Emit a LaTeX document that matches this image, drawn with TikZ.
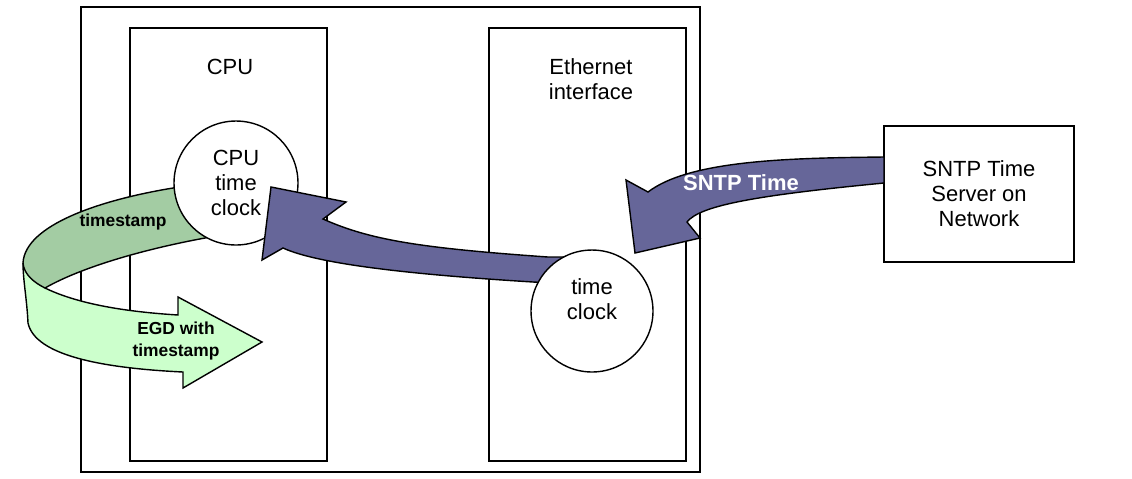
\documentclass[tikz,border=0pt]{standalone}
\usepackage{fontspec}
\setmainfont{Liberation Sans}
\definecolor{purp}{RGB}{102,102,153}
\definecolor{dgreen}{RGB}{163,204,163}
\definecolor{lgreen}{RGB}{204,255,204}
\begin{document}
\begin{tikzpicture}[x=0.02cm,y=-0.02cm,line join=miter,
  box/.style={draw,line width=0.8pt,rectangle,inner sep=0pt},
  clock/.style={draw,line width=0.8pt,circle,fill=white,inner sep=0pt,minimum size=2.48cm,
    align=center,font=\fontsize{12.5}{14.2}\selectfont},
  lbl/.style={align=center,font=\fontsize{12.5}{14.2}\selectfont,inner sep=0pt},
  blbl/.style={align=center,font=\fontsize{9.9}{12.5}\selectfont\bfseries,inner sep=0pt},
  band/.style={draw,line width=0.8pt}]
\useasboundingbox (0,0) rectangle (1132,478);
% boxes
\node[box,minimum width=12.38cm,minimum height=9.3cm] (outer) at (390.5,239.5) {};
\node[box,minimum width=3.94cm,minimum height=8.66cm] (cpu) at (228.5,244.5) {};
\node[box,minimum width=3.94cm,minimum height=8.66cm] (eth) at (587.5,244.5) {};
\node[box,minimum width=3.8cm,minimum height=2.72cm,lbl] (srv) at (979,194) {SNTP Time\\Server on\\Network};
\node[lbl] (cpulbl) at (230,67) {CPU};
\node[lbl] (ethlbl) at (591,79) {Ethernet\\interface};
% green arrow
\fill[lgreen] (23,263) .. controls (24,275) and (35,283) .. (45,288)
  .. controls (80,305) and (130,312) .. (178,315) -- (178,297) -- (262,342) -- (183,388) -- (183,372)
  .. controls (100,368) and (35,355) .. (28,323) .. controls (27,300) and (23,280) .. (23,263) -- cycle;
\draw[line width=0.8pt] (45,288) .. controls (80,305) and (130,312) .. (178,315) -- (178,297) -- (262,342) -- (183,388) -- (183,372)
  .. controls (100,368) and (35,355) .. (28,323) .. controls (27,300) and (23,280) .. (23,263);
\draw[band,fill=dgreen] (190,186) -- (173,188) .. controls (100,200) and (25,225) .. (23,263)
  .. controls (24,275) and (35,283) .. (45,288) .. controls (80,268) and (140,250) .. (205,238) -- (215,236) -- cycle;
\node[blbl] (ts) at (123,222) {timestamp};
\node[blbl] (egd) at (176,341) {EGD with\\timestamp};
% CPU clock
\node[clock] (cpuclk) at (236,183) {CPU\\time\\clock};
% purple arrow to CPU clock
\draw[band,fill=purp] (570,257) -- (548,257) .. controls (420,248) and (370,240) .. (323,219) -- (346,202) -- (271,187)
  -- (262,260) -- (283,248) .. controls (320,265) and (420,275) .. (533,282) -- (570,284) -- cycle;
% time clock
\node[clock,minimum size=2.44cm] (ethclk) at (592,311) {};
\node[lbl] (ethclklbl) at (592,299) {time\\clock};
% SNTP arrow
\draw[band,fill=purp] (884,157) .. controls (790,158) and (690,160) .. (648,192) -- (626,180) -- (635,253)
  -- (700,238) -- (687,222) .. controls (700,205) and (760,195) .. (884,183) -- cycle;
\node[lbl,text=white,font=\fontsize{12.5}{14.2}\selectfont\bfseries] (sntp) at (741,183) {SNTP Time};
\end{tikzpicture}
\end{document}
